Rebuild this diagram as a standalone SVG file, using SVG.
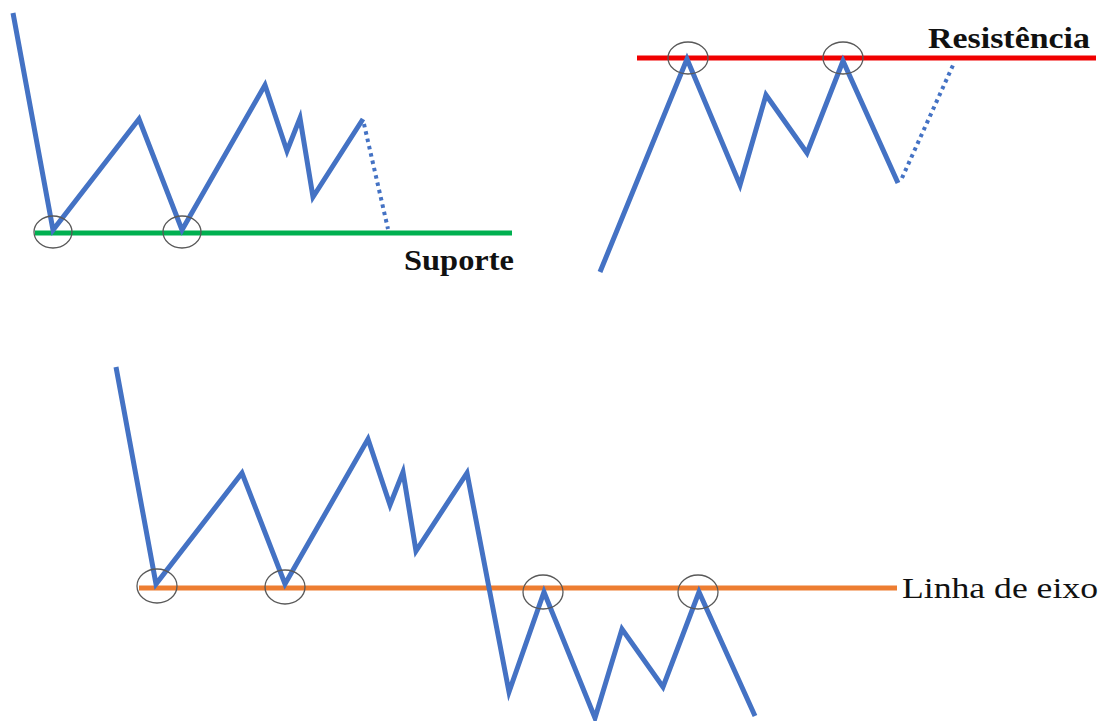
<svg xmlns="http://www.w3.org/2000/svg" width="1099" height="721" viewBox="0 0 1099 721">
<style>
.price{fill:none;stroke:#4472C4;stroke-width:5;stroke-linejoin:miter;stroke-miterlimit:6}
.dots{fill:none;stroke:#4472C4;stroke-width:4;stroke-dasharray:3.5 4}
.ring{fill:none;stroke:#595959;stroke-width:1.3}
.lbl{font-family:"Liberation Serif",serif;font-size:29px;fill:#111}
</style>
<rect width="1099" height="721" fill="#fff"/>
<g id="suporte">
<line x1="35" y1="233" x2="512" y2="233" stroke="#00B050" stroke-width="5"/>
<polyline class="price" points="13,13 53,230 139,119 182,230 265,85 287,151 300,118 313,197 363,119"/>
<line class="dots" x1="364" y1="124" x2="388" y2="229"/>
<ellipse class="ring" cx="53" cy="232" rx="19" ry="16"/>
<ellipse class="ring" cx="182" cy="232" rx="19" ry="16"/>
<text class="lbl" x="404" y="270" font-weight="bold" textLength="110" lengthAdjust="spacingAndGlyphs">Suporte</text>
</g>
<g id="resistencia">
<line x1="637" y1="58" x2="1096" y2="58" stroke="#F00000" stroke-width="5"/>
<polyline class="price" points="600,272 687,59 740,185 766,95 807,153 843,61 898,183"/>
<line class="dots" x1="902" y1="178" x2="954" y2="63"/>
<ellipse class="ring" cx="688" cy="58" rx="20" ry="16"/>
<ellipse class="ring" cx="843" cy="58" rx="20" ry="16"/>
<text class="lbl" x="928" y="48" font-weight="bold" textLength="162" lengthAdjust="spacingAndGlyphs">Resistência</text>
</g>
<g id="linha-de-eixo">
<line x1="139" y1="588" x2="897" y2="588" stroke="#ED7D31" stroke-width="5"/>
<polyline class="price" points="116,367 156,584 242,473 285,584 368,439 390,505 403,472 416,551 467,473 509,692 544,592 595,718 622,629 663,687 699,592 755,716"/>
<ellipse class="ring" cx="157" cy="586" rx="20" ry="17"/>
<ellipse class="ring" cx="285" cy="587" rx="20" ry="17"/>
<ellipse class="ring" cx="543" cy="592" rx="20" ry="17"/>
<ellipse class="ring" cx="698" cy="592" rx="20" ry="17"/>
<text class="lbl" x="902" y="598" textLength="196" lengthAdjust="spacingAndGlyphs">Linha de eixo</text>
</g>
<g id="connectors"/>
</svg>
